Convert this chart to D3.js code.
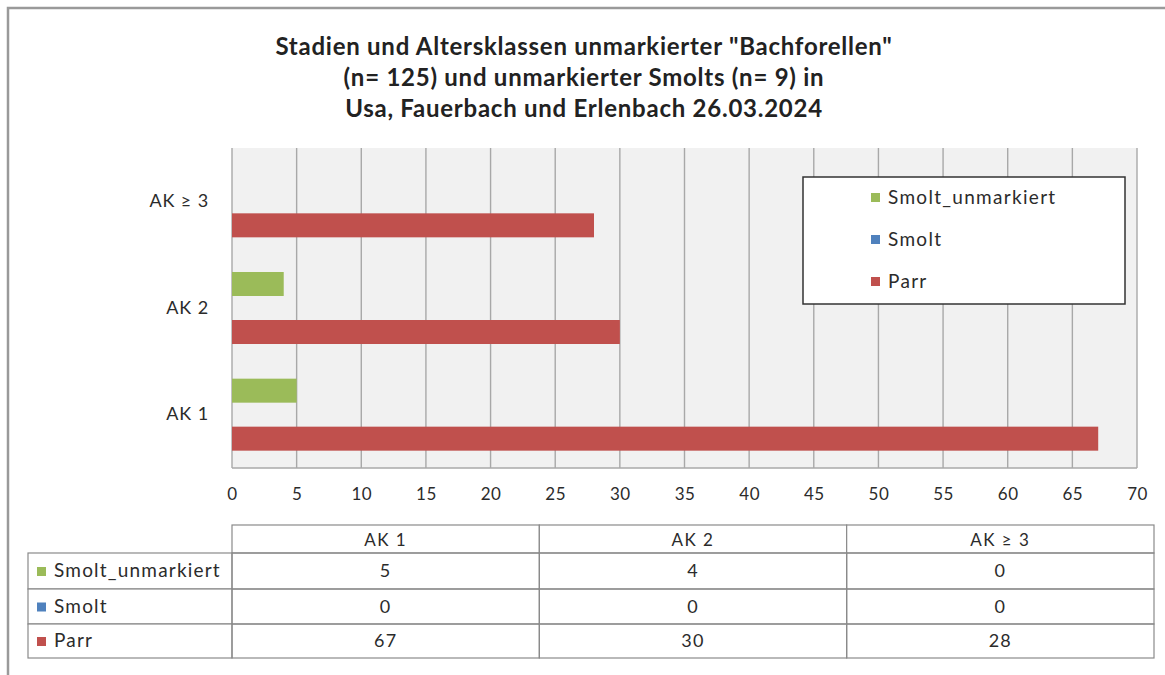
<!DOCTYPE html>
<html><head><meta charset="utf-8">
<script src="https://cdn.jsdelivr.net/npm/d3@7"></script>
<style>body{margin:0;background:#fff} svg{display:block}</style>
</head><body><svg id="c" width="1165" height="675"></svg>
<script>
const categories = ["AK 1", "AK 2", "AK ≥ 3"];
const seriesNames = ["Smolt_unmarkiert", "Smolt", "Parr"];
const smoltUnmarkiert = [5, 4, 0];
const smolt = [0, 0, 0];
const parr = [67, 30, 28];
const xTicks = [0, 5, 10, 15, 20, 25, 30, 35, 40, 45, 50, 55, 60, 65, 70];
const titleLines = [
  "Stadien und Altersklassen unmarkierter \"Bachforellen\"",
  "(n= 125) und unmarkierter Smolts (n= 9) in",
  "Usa, Fauerbach und Erlenbach 26.03.2024"
];
const colors = ["#9bbb59", "#4f81bd", "#c0504d"];

const seriesValues = [smoltUnmarkiert, smolt, parr];
const FONT = "Lato, 'Open Sans', sans-serif";
const TXT = "#2b2b2b";
const svg = d3.select("#c");

// outer frame
svg.append("path").attr("d", "M8,675V8H1165").attr("fill", "none")
  .attr("stroke", "#9a9a9a").attr("stroke-width", 2.5);

// title
svg.append("g").selectAll("text").data(titleLines).join("text")
  .attr("x", 584).attr("y", (d, i) => 55 + i * 31)
  .attr("text-anchor", "middle").attr("font-family", FONT)
  .attr("font-weight", "bold").attr("font-size", 24).attr("letter-spacing", 0.75)
  .attr("fill", "#222")
  .text(d => d);

const plot = {left: 232, right: 1137, top: 148, bottom: 468};
const x = d3.scaleLinear().domain([0, 70]).range([plot.left, plot.right]);
const y = d3.scaleBand().domain(categories.slice().reverse()).range([plot.top, plot.bottom]);
const ys = d3.scaleBand().domain(seriesNames).range([0, y.bandwidth()]).paddingInner(0).paddingOuter(0.722);

svg.append("rect").attr("x", plot.left).attr("y", plot.top)
  .attr("width", plot.right - plot.left).attr("height", plot.bottom - plot.top)
  .attr("fill", "#f1f1f1");

// grid
svg.append("g").selectAll("line").data(xTicks).join("line")
  .attr("x1", d => x(d)).attr("x2", d => x(d))
  .attr("y1", plot.top).attr("y2", plot.bottom)
  .attr("stroke", "#a8a8a8").attr("stroke-width", 1.4);
svg.append("line").attr("x1", plot.left).attr("x2", plot.right)
  .attr("y1", plot.bottom).attr("y2", plot.bottom)
  .attr("stroke", "#a8a8a8").attr("stroke-width", 1.4);

// bars
const rows = [];
categories.forEach((c, ci) => seriesNames.forEach((s, si) => rows.push({c, s, si, v: seriesValues[si][ci]})));
svg.append("g").selectAll("rect").data(rows.filter(r => r.v > 0)).join("rect")
  .attr("x", x(0)).attr("y", d => y(d.c) + ys(d.s))
  .attr("width", d => x(d.v) - x(0)).attr("height", ys.bandwidth())
  .attr("fill", d => colors[d.si]);

// x axis labels
const xAxis = d3.axisBottom(x).tickValues(xTicks).tickSize(0).tickPadding(0);
const gx = svg.append("g").attr("transform", `translate(0,${plot.bottom + 20})`).call(xAxis);
gx.select(".domain").remove();
gx.selectAll("text").attr("font-family", FONT).attr("font-size", 17).attr("letter-spacing", 0.5).attr("fill", TXT);

// category labels
const yAxis = d3.axisLeft(y).tickSize(0).tickPadding(23);
const gy = svg.append("g").attr("transform", `translate(${plot.left},0)`).call(yAxis);
gy.select(".domain").remove();
gy.selectAll("text").attr("font-family", FONT).attr("font-size", 18).attr("letter-spacing", 0.9).attr("fill", TXT);

// legend
const lg = svg.append("g");
lg.append("rect").attr("x", 803).attr("y", 177).attr("width", 322).attr("height", 127)
  .attr("fill", "#fff").attr("stroke", "#333").attr("stroke-width", 1.5);
const li = lg.selectAll("g").data(seriesNames).join("g")
  .attr("transform", (d, i) => `translate(871,${198 + i * 42})`);
li.append("rect").attr("x", 0).attr("y", -5).attr("width", 9).attr("height", 9)
  .attr("fill", (d, i) => colors[i]);
li.append("text").attr("x", 17).attr("y", 6).attr("font-family", FONT)
  .attr("font-size", 19).attr("letter-spacing", 1.3).attr("fill", TXT).text(d => d);

// data table
const tb = svg.append("g");
const colX = d3.scaleBand().domain(categories).range([232, 1154]);
const rowY = [553, 589, 624, 658];
const stroke = "#8a8a8a";
// header
tb.selectAll("rect.h").data(categories).join("rect").attr("class", "h")
  .attr("x", d => colX(d)).attr("y", 525).attr("width", colX.bandwidth()).attr("height", 28)
  .attr("fill", "#fff").attr("stroke", stroke).attr("stroke-width", 1.2);
tb.selectAll("text.h").data(categories).join("text").attr("class", "h")
  .attr("x", d => colX(d) + colX.bandwidth() / 2).attr("y", 546)
  .attr("text-anchor", "middle").attr("font-family", FONT).attr("font-size", 17)
  .attr("letter-spacing", 1.5).attr("fill", TXT)
  .text(d => d);
seriesNames.forEach((s, si) => {
  const y0 = rowY[si], y1 = rowY[si + 1];
  tb.append("rect").attr("x", 28).attr("y", y0).attr("width", 204).attr("height", y1 - y0)
    .attr("fill", "#fff").attr("stroke", stroke).attr("stroke-width", 1.2);
  tb.append("rect").attr("x", 37).attr("y", (y0 + y1) / 2 - 4).attr("width", 9).attr("height", 9)
    .attr("fill", colors[si]);
  tb.append("text").attr("x", 54).attr("y", (y0 + y1) / 2 + 6).attr("font-family", FONT)
    .attr("font-size", 19).attr("letter-spacing", 1.2).attr("fill", TXT).text(s);
  categories.forEach((c, ci) => {
    tb.append("rect").attr("x", colX(c)).attr("y", y0).attr("width", colX.bandwidth()).attr("height", y1 - y0)
      .attr("fill", "none").attr("stroke", stroke).attr("stroke-width", 1.2);
    tb.append("text").attr("x", colX(c) + colX.bandwidth() / 2).attr("y", (y0 + y1) / 2 + 6)
      .attr("text-anchor", "middle").attr("font-family", FONT).attr("font-size", 18)
      .attr("letter-spacing", 1.2).attr("fill", TXT)
      .text(seriesValues[si][ci]);
  });
});
</script></body></html>
